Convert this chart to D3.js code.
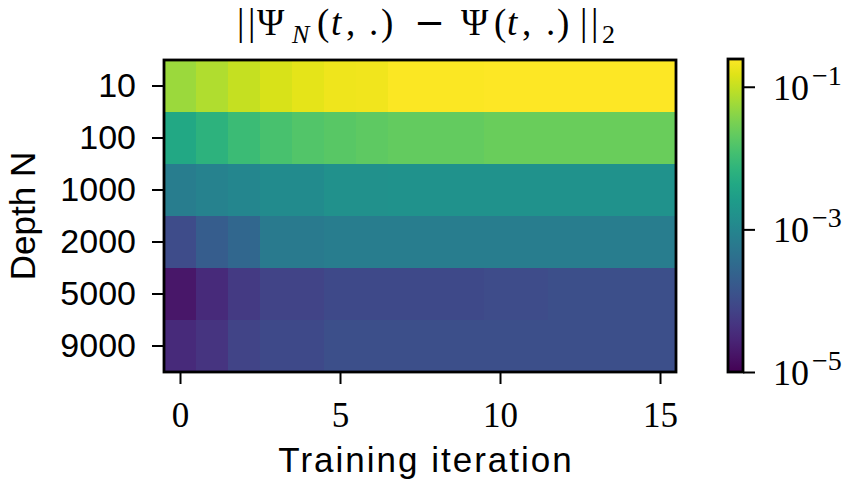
<!DOCTYPE html>
<html>
<head>
<meta charset="utf-8">
<script src="https://cdn.jsdelivr.net/npm/d3@7"></script>
<style>
  body { margin: 0; background: #fff; }
  svg { display: block; }
</style>
</head>
<body>
<svg id="chart" width="851" height="486"></svg>
<script>
'use strict';

// rows of the heatmap (depth N) and columns (training iteration)
const depths = ["10", "100", "1000", "2000", "5000", "9000"];
const iterations = [0, 1, 2, 3, 4, 5, 6, 7, 8, 9, 10, 11, 12, 13, 14, 15];

// ||Psi_N(t,.) - Psi(t,.)||_2
const errN10 = [0.054, 0.073, 0.099, 0.134, 0.164, 0.19, 0.20, 0.235, 0.235, 0.235, 0.245, 0.245, 0.245, 0.245, 0.245, 0.245];
const errN100 = [4.3e-3, 6.5e-3, 9.7e-3, 1.31e-2, 1.6e-2, 1.77e-2, 1.96e-2, 2.17e-2, 2.17e-2, 2.17e-2, 2.4e-2, 2.4e-2, 2.4e-2, 2.4e-2, 2.4e-2, 2.4e-2];
const errN1000 = [7.0e-4, 8.6e-4, 1.05e-3, 1.28e-3, 1.28e-3, 1.57e-3, 1.57e-3, 1.73e-3, 1.73e-3, 1.73e-3, 1.73e-3, 1.73e-3, 1.73e-3, 1.73e-3, 1.73e-3, 1.73e-3];
const errN2000 = [1.02e-4, 1.87e-4, 2.81e-4, 6.3e-4, 6.3e-4, 7.0e-4, 7.0e-4, 7.0e-4, 7.0e-4, 7.0e-4, 7.0e-4, 7.0e-4, 7.0e-4, 7.0e-4, 7.0e-4, 7.0e-4];
const errN5000 = [1.83e-5, 3.4e-5, 5.6e-5, 7.6e-5, 7.6e-5, 9.2e-5, 9.2e-5, 9.2e-5, 9.2e-5, 9.2e-5, 1.02e-4, 1.02e-4, 1.13e-4, 1.13e-4, 1.13e-4, 1.13e-4];
const errN9000 = [3.4e-5, 4.6e-5, 7.6e-5, 9.2e-5, 9.2e-5, 1.13e-4, 1.13e-4, 1.13e-4, 1.13e-4, 1.13e-4, 1.13e-4, 1.13e-4, 1.13e-4, 1.13e-4, 1.13e-4, 1.13e-4];
const errRows = [errN10, errN100, errN1000, errN2000, errN5000, errN9000];

const xTicks = [0, 5, 10, 15];
const cbarTicks = [1e-1, 1e-3, 1e-5];
const cbarExps = ["\u22121", "\u22123", "\u22125"];
const colorDomain = [1e-5, 0.245];

// title pieces: text, italic?, subscript?
const titleParts = [
    ["|", 0, 0], ["|", 0, 0], ["\u03A8", 0, 0], ["N", 1, 1], ["(", 0, 0], ["t", 1, 0],
    [",", 0, 0], [".", 0, 0], [")", 0, 0], ["\u2212", 0, 0], ["\u03A8", 0, 0], ["(", 0, 0],
    ["t", 1, 0], [",", 0, 0], [".", 0, 0], [")", 0, 0], ["|", 0, 0], ["|", 0, 0], ["2", 0, 1]
];
const titleX = [237, 248, 257, 292, 317, 331, 346, 369, 381, 414, 461, 494, 507, 522, 546, 557, 580, 591, 602];

const serif = "'Liberation Serif', 'DejaVu Serif', serif";
const sans = "'Liberation Sans', Arial, sans-serif";

function getConfig() {
    let margin = { top: 60, left: 164 };
    let width = 512, height = 312;
    let svg = d3.select("#chart");
    let container = svg.append("g")
        .attr("transform", "translate(" + margin.left + "," + margin.top + ")");
    return { svg, container, margin, width, height };
}

function getScales(config) {
    let { width, height } = config;
    let xScale = d3.scaleLinear().domain([-0.5, 15.5]).range([0, width]);
    let yScale = d3.scaleBand().domain(depths).range([0, height]);
    let cScale = d3.scaleSequentialLog(d3.interpolateViridis).domain(colorDomain);
    return { xScale, yScale, cScale };
}

function drawCells(config, scales) {
    let { container } = config;
    let { xScale, yScale, cScale } = scales;

    let cells = [];
    depths.forEach((d, r) => {
        iterations.forEach((it, i) => cells.push({ depth: d, it: it, v: errRows[r][i] }));
    });

    container.selectAll("rect.cell")
        .data(cells)
        .enter()
        .append("rect")
        .attr("class", "cell")
        .attr("x", d => xScale(d.it - 0.5))
        .attr("width", d => xScale(d.it + 0.5) - xScale(d.it - 0.5) + 0.5)
        .attr("y", d => yScale(d.depth))
        .attr("height", yScale.bandwidth() + 0.5)
        .attr("fill", d => cScale(d.v))
        .attr("shape-rendering", "crispEdges");
}

function drawAxes(config, scales) {
    let { container, width, height } = config;
    let { xScale, yScale } = scales;

    let xAxis = d3.axisBottom(xScale).tickValues(xTicks).tickSize(12).tickFormat(d3.format("d"));
    let gx = container.append("g")
        .attr("transform", "translate(0," + height + ")")
        .call(xAxis);
    gx.select(".domain").remove();
    gx.selectAll("line").attr("stroke", "#000").attr("stroke-width", 2);
    gx.selectAll("text")
        .attr("y", 30)
        .attr("dy", "0.71em")
        .style("font-family", serif)
        .style("font-size", "35px")
        .attr("fill", "#000");

    let yAxis = d3.axisLeft(yScale).tickSize(12).tickPadding(16);
    let gy = container.append("g").call(yAxis);
    gy.select(".domain").remove();
    gy.selectAll("line").attr("stroke", "#000").attr("stroke-width", 2);
    gy.selectAll("text")
        .style("font-family", sans)
        .style("font-size", "34px")
        .attr("fill", "#000");

    container.append("rect")
        .attr("width", width)
        .attr("height", height)
        .attr("fill", "none")
        .attr("stroke", "#000")
        .attr("stroke-width", 2.8);

    container.append("text")
        .attr("x", width / 2 + 6)
        .attr("y", height + 100)
        .attr("text-anchor", "middle")
        .style("font-family", sans)
        .style("font-size", "35px")
        .style("letter-spacing", "2px")
        .text("Training iteration");

    container.append("text")
        .attr("transform", "translate(" + (-129) + "," + (height / 2) + ") rotate(-90)")
        .attr("text-anchor", "middle")
        .style("font-family", sans)
        .style("font-size", "35px")
        .text("Depth N");
}

function drawTitle(config) {
    let { svg } = config;
    let g = svg.append("g")
        .style("font-family", serif);
    titleParts.forEach((p, i) => {
        let isMinus = p[0] === "\u2212";
        g.append("text")
            .attr("x", titleX[i])
            .attr("y", p[2] ? 43 : 35)
            .style("font-family", isMinus ? "'DejaVu Serif', serif" : null)
            .style("font-size", p[2] ? "26px" : "37px")
            .style("font-style", p[1] ? "italic" : "normal")
            .text(p[0]);
    });
}

function drawColorbar(config, scales) {
    let { svg } = config;
    let x0 = 728, w = 15, top = 59, bottom = 372;

    let yScale = d3.scaleLog().domain(colorDomain).range([bottom, top]);

    let grad = svg.append("defs").append("linearGradient")
        .attr("id", "viridisGrad")
        .attr("x1", "0%").attr("y1", "100%")
        .attr("x2", "0%").attr("y2", "0%");
    d3.range(0, 1.0001, 0.05).forEach(s => {
        grad.append("stop")
            .attr("offset", (s * 100) + "%")
            .attr("stop-color", d3.interpolateViridis(s));
    });

    svg.append("rect")
        .attr("x", x0).attr("y", top)
        .attr("width", w).attr("height", bottom - top)
        .attr("fill", "url(#viridisGrad)")
        .attr("stroke", "#000")
        .attr("stroke-width", 2.8);

    let axis = d3.axisRight(yScale).tickValues(cbarTicks).tickSize(12).tickFormat("");
    let g = svg.append("g")
        .attr("transform", "translate(" + (x0 + w) + ",0)")
        .call(axis);
    g.select(".domain").remove();
    g.selectAll("line").attr("stroke", "#000").attr("stroke-width", 2);
    g.selectAll(".tick text").remove();

    cbarTicks.forEach((v, i) => {
        let lab = g.append("text")
            .attr("x", 30)
            .attr("y", yScale(v) + 13)
            .attr("fill", "#000")
            .style("font-family", serif)
            .style("font-size", "36px");
        lab.append("tspan").text("10");
        lab.append("tspan").attr("dy", -15).attr("dx", 3).style("font-size", "28px").text(cbarExps[i]);
    });
}

function drawChart() {
    let config = getConfig();
    let scales = getScales(config);
    drawCells(config, scales);
    drawAxes(config, scales);
    drawTitle(config);
    drawColorbar(config, scales);
}

drawChart();
</script>
</body>
</html>
